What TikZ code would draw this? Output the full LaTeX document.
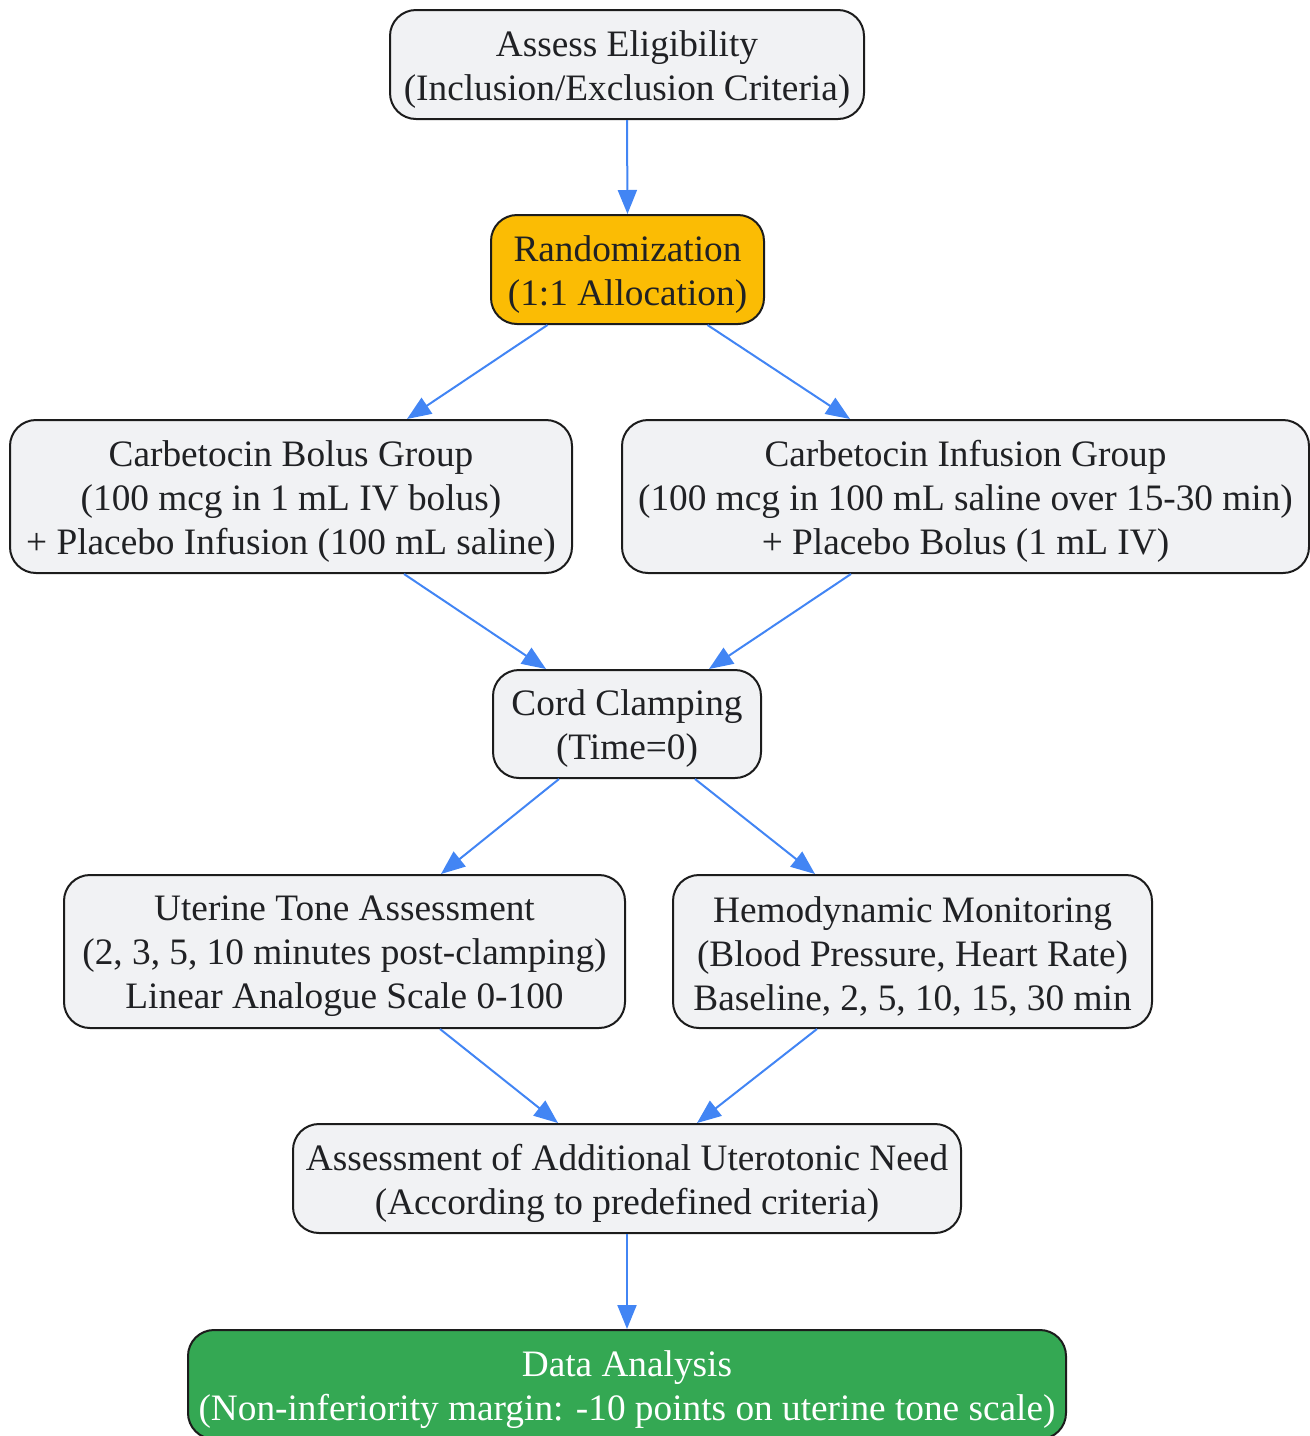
\documentclass[tikz,border=0pt]{standalone}
\usepackage{fontspec}
\setmainfont{Liberation Serif}
\usetikzlibrary{arrows.meta}
\definecolor{boxfill}{HTML}{F1F2F4}
\definecolor{boxtext}{HTML}{202124}
\definecolor{gold}{HTML}{FBBC04}
\definecolor{gr}{HTML}{34A853}
\definecolor{edge}{HTML}{4285F4}
\definecolor{bord}{HTML}{1C1C1C}
\tikzset{
  box/.style={draw=bord, line width=2pt, fill=boxfill, rounded corners=26pt, inner sep=0pt},
  lbl/.style={align=center, inner sep=0pt, text=boxtext, yshift=-5pt, font=\fontsize{37.3}{44}\selectfont},
  conn/.style={draw=edge, line width=2pt, -{Triangle[length=24pt,width=19pt]}}
}
\begin{document}
\begin{tikzpicture}[x=1pt,y=-1pt]
\useasboundingbox (0,0) rectangle (1310,1436);
\clip (0,0) rectangle (1310,1436);
\node[box, minimum width=474pt, minimum height=109pt, label={[lbl]center:Assess Eligibility\\(Inclusion/Exclusion Criteria)}] (assess) at (627,64.5) {};
\node[box, fill=gold, minimum width=273pt, minimum height=109pt, label={[lbl]center:Randomization\\(1:1 Allocation)}] (rand) at (627.5,269.5) {};
\node[box, minimum width=562pt, minimum height=153pt, label={[lbl]center:Carbetocin Bolus Group\\(100 mcg in 1 mL IV bolus)\\+ Placebo Infusion (100 mL saline)}] (bolus) at (291,496.5) {};
\node[box, minimum width=687pt, minimum height=153pt, label={[lbl]center:Carbetocin Infusion Group\\(100 mcg in 100 mL saline over 15-30 min)\\+ Placebo Bolus (1 mL IV)}] (inf) at (965.5,496.5) {};
\node[box, minimum width=268pt, minimum height=108pt, label={[lbl]center:Cord Clamping\\(Time=0)}] (cord) at (627,724) {};
\node[box, minimum width=561pt, minimum height=153pt, label={[lbl]center:Uterine Tone Assessment\\(2, 3, 5, 10 minutes post-clamping)\\Linear Analogue Scale 0-100}] (ut) at (344.5,951.5) {};
\node[box, minimum width=479pt, minimum height=153pt, label={[lbl]center:Hemodynamic Monitoring\\(Blood Pressure, Heart Rate)\\Baseline, 2, 5, 10, 15, 30 min}] (hemo) at (912.5,951.5) {};
\node[box, minimum width=668pt, minimum height=109pt, label={[lbl]center:Assessment of Additional Uterotonic Need\\(According to predefined criteria)}] (add) at (627,1178.5) {};
\node[box, fill=gr, minimum width=878pt, minimum height=109pt, label={[lbl,text=white]center:Data Analysis\\(Non-inferiority margin: -10 points on uterine tone scale)}] (data) at (627,1384.5) {};
\draw[conn] (assess.south) -- (rand.north);
\draw[conn] ([xshift=-80pt]rand.south) -- ([xshift=116pt]bolus.north);
\draw[conn] ([xshift=80pt]rand.south) -- ([xshift=-115.5pt]inf.north);
\draw[conn] ([xshift=113pt]bolus.south) -- ([xshift=-81pt]cord.north);
\draw[conn] ([xshift=-114.5pt]inf.south) -- ([xshift=82pt]cord.north);
\draw[conn] ([xshift=-68pt]cord.south) -- ([xshift=96.5pt]ut.north);
\draw[conn] ([xshift=68pt]cord.south) -- ([xshift=-97.5pt]hemo.north);
\draw[conn] ([xshift=95.5pt]ut.south) -- ([xshift=-69pt]add.north);
\draw[conn] ([xshift=-95.5pt]hemo.south) -- ([xshift=70pt]add.north);
\draw[conn] (add.south) -- (data.north);
\end{tikzpicture}
\end{document}
